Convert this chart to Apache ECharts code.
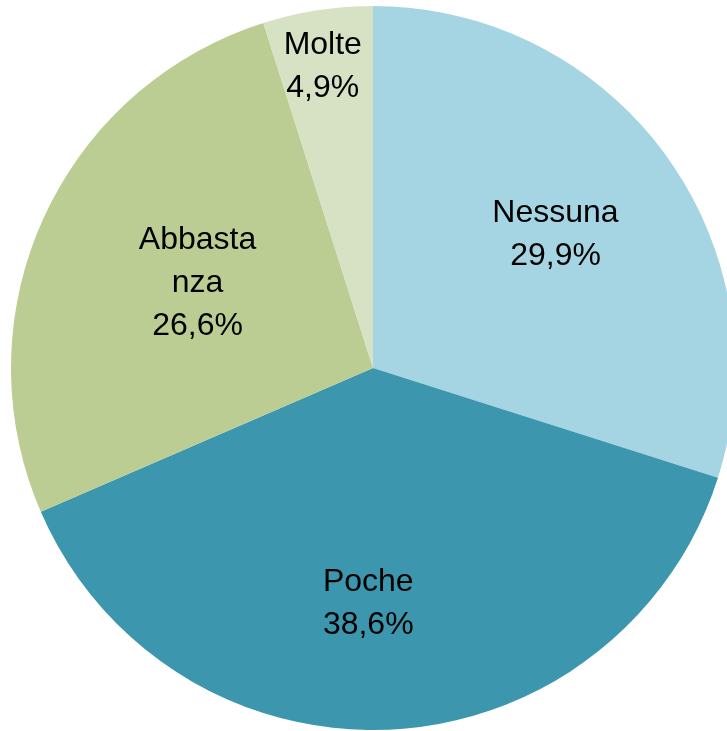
<!DOCTYPE html>
<html>
<head>
<meta charset="utf-8">
<script src="https://cdn.jsdelivr.net/npm/echarts@6/dist/echarts.min.js"></script>
<style>
html,body{margin:0;padding:0;background:#fff;}
#chart{width:727px;height:731px;}
</style>
</head>
<body>
<div id="chart"></div>
<script>
const categories = ['Nessuna', 'Poche', 'Abbastanza', 'Molte'];
const labelTexts = ['Nessuna', 'Poche', 'Abbasta\nnza', 'Molte'];
const values = [29.9, 38.6, 26.6, 4.9];
const colors = ['#A5D5E3', '#3C97AE', '#BCCD93', '#D7E1C4'];
const labelOffsets = [[34, -25], [-14, 52], [-8, -9], [-22, -120]];

const data = categories.map((c, i) => ({
  name: c,
  value: values[i],
  itemStyle: { color: colors[i] },
  label: { offset: labelOffsets[i] }
}));

const chart = echarts.init(document.getElementById('chart'), null, { renderer: 'canvas' });
chart.setOption({
  animation: false,
  series: [{
    type: 'pie',
    center: [373, 368],
    radius: 362,
    startAngle: 90,
    clockwise: true,
    avoidLabelOverlap: false,
    itemStyle: { borderWidth: 0 },
    label: {
      show: true,
      position: 'inside',
      color: '#000',
      fontFamily: 'Liberation Sans',
      fontSize: 32,
      lineHeight: 43,
      align: 'center',
      formatter: function (p) {
        return labelTexts[p.dataIndex] + '\n' + p.value.toFixed(1).replace('.', ',') + '%';
      }
    },
    labelLine: { show: false },
    emphasis: { disabled: true },
    data: data
  }]
});
</script>
</body>
</html>
